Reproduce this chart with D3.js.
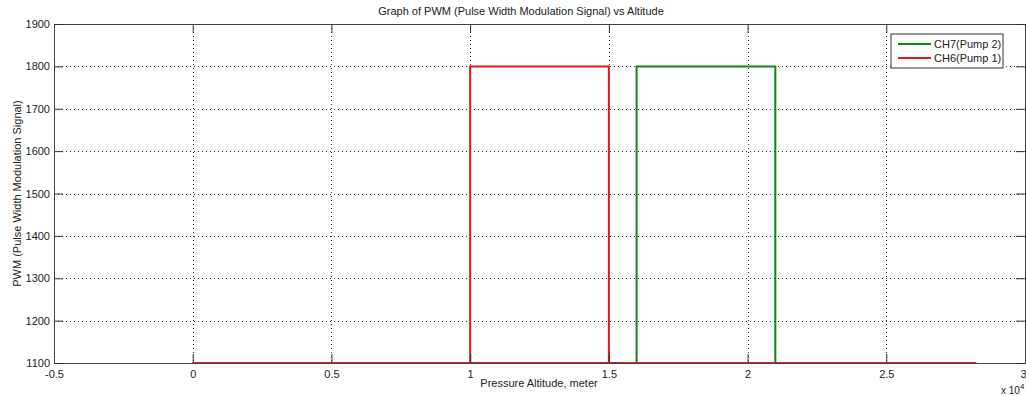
<!DOCTYPE html>
<html lang="en">
<head>
  <meta charset="UTF-8">
  <title>PWM vs Altitude</title>
  <script src="https://cdn.jsdelivr.net/npm/d3@7"></script>
  <style>
    body { margin: 0; background: #fff; }
    text { font-family: "Liberation Sans", Arial, sans-serif; }
  </style>
</head>
<body>
<svg></svg>
<script>
  const width = 1026, height = 396
  const margin = {top: 24, right: 1, bottom: 33, left: 54}

  // altitude (m) and PWM for each channel: ascent to 28240 m, then descent
  const ch6Alt = [0, 10000, 10000, 15000, 15000, 28240, 0]
  const ch6Pwm = [1100, 1100, 1800, 1800, 1100, 1100, 1100]
  const ch7Alt = [0, 16000, 16000, 21000, 21000, 28240, 0]
  const ch7Pwm = [1100, 1100, 1800, 1800, 1100, 1100, 1100]
  const xTicks = [-0.5, 0, 0.5, 1, 1.5, 2, 2.5, 3]   // x 10^4
  const yTicks = [1100, 1200, 1300, 1400, 1500, 1600, 1700, 1800, 1900]

  const series = [
    {name: 'CH7(Pump 2)', color: '#118811', alt: ch7Alt, pwm: ch7Pwm},
    {name: 'CH6(Pump 1)', color: '#e8141e', alt: ch6Alt, pwm: ch6Pwm}
  ]

  const svg = d3.select('svg')
      .attr('width', width)
      .attr('height', height)
      .attr('viewBox', [0, 0, width, height])

  const x = d3.scaleLinear()
      .domain([-5000, 30000])
      .range([margin.left, width - margin.right])

  const y = d3.scaleLinear()
      .domain([1100, 1900])
      .range([height - margin.bottom, margin.top])

  // grid
  svg.append('g')
      .attr('stroke', '#333')
      .attr('stroke-width', 1)
      .attr('stroke-dasharray', '1,3')
      .call(g => g.selectAll('line.v').data(xTicks.slice(1, -1)).join('line')
          .attr('x1', d => Math.round(x(d * 1e4)) + 0.5).attr('x2', d => Math.round(x(d * 1e4)) + 0.5)
          .attr('y1', y(1900)).attr('y2', y(1100)))
      .call(g => g.selectAll('line.h').data(yTicks.slice(1, -1)).join('line')
          .attr('y1', d => Math.round(y(d)) + 0.5).attr('y2', d => Math.round(y(d)) + 0.5)
          .attr('x1', x(-5000)).attr('x2', x(30000)))

  // data lines: green first, red over it
  const line = d3.line()
      .x(d => x(d[0]))
      .y(d => y(d[1]))

  series.forEach(s => {
    svg.append('path')
        .datum(d3.zip(s.alt, s.pwm))
        .attr('fill', 'none')
        .attr('stroke', s.color)
        .attr('stroke-width', 2)
        .attr('d', line)
  })

  // box axes with inward ticks
  const frame = svg.append('g').attr('color', '#333')
  frame.append('g')
      .attr('transform', `translate(0,${y(1100)})`)
      .call(d3.axisBottom(x).tickValues(xTicks.map(d => d * 1e4)).tickSize(-9).tickSizeOuter(0)
          .tickFormat((d, i) => xTicks[i]))
      .call(g => g.selectAll('text').attr('dy', '1.1em').attr('font-size', 11).attr('fill', '#222'))
      .call(g => g.select('.tick:last-of-type text').attr('text-anchor', 'end').attr('dx', 1))
  frame.append('g')
      .attr('transform', `translate(0,${y(1900)})`)
      .call(d3.axisTop(x).tickValues(xTicks.map(d => d * 1e4)).tickSize(-9).tickSizeOuter(0).tickFormat(''))
  frame.append('g')
      .attr('transform', `translate(${x(-5000)},0)`)
      .call(d3.axisLeft(y).tickValues(yTicks).tickSize(-9).tickSizeOuter(0).tickPadding(4)
          .tickFormat(d3.format('d')))
      .call(g => g.selectAll('text').attr('font-size', 11).attr('fill', '#222'))
  frame.append('g')
      .attr('transform', `translate(${x(30000)},0)`)
      .call(d3.axisRight(y).tickValues(yTicks).tickSize(-9).tickSizeOuter(0).tickFormat(''))
  frame.selectAll('.domain').attr('stroke', '#444')

  // title and labels
  svg.append('text')
      .attr('x', 521).attr('y', 15)
      .attr('text-anchor', 'middle')
      .attr('font-size', 11).attr('fill', '#222')
      .text('Graph of PWM (Pulse Width Modulation Signal) vs Altitude')

  svg.append('text')
      .attr('x', 539).attr('y', 387)
      .attr('text-anchor', 'middle')
      .attr('font-size', 11).attr('fill', '#222')
      .text('Pressure Altitude, meter')

  svg.append('text')
      .attr('transform', `translate(21,${(y(1100) + y(1900)) / 2}) rotate(-90)`)
      .attr('text-anchor', 'middle')
      .attr('font-size', 11).attr('fill', '#222')
      .text('PWM (Pulse Width Modulation Signal)')

  const exp = svg.append('text')
      .attr('x', 1001).attr('y', 394)
      .attr('font-size', 10).attr('fill', '#222')
  exp.append('tspan').text('x 10')
  exp.append('tspan').attr('dy', -5).attr('font-size', 8).text('4')

  // legend
  const legend = svg.append('g').attr('transform', 'translate(891,34)')
  legend.append('rect')
      .attr('width', 112).attr('height', 34)
      .attr('fill', '#fff').attr('stroke', '#333')
  series.forEach((s, i) => {
    const row = legend.append('g').attr('transform', `translate(0,${10 + i * 14})`)
    row.append('line')
        .attr('x1', 7).attr('x2', 40)
        .attr('stroke', s.color).attr('stroke-width', 2)
    row.append('text')
        .attr('x', 43).attr('y', 4)
        .attr('font-size', 11).attr('fill', '#222')
        .text(s.name)
  })
</script>
</body>
</html>
